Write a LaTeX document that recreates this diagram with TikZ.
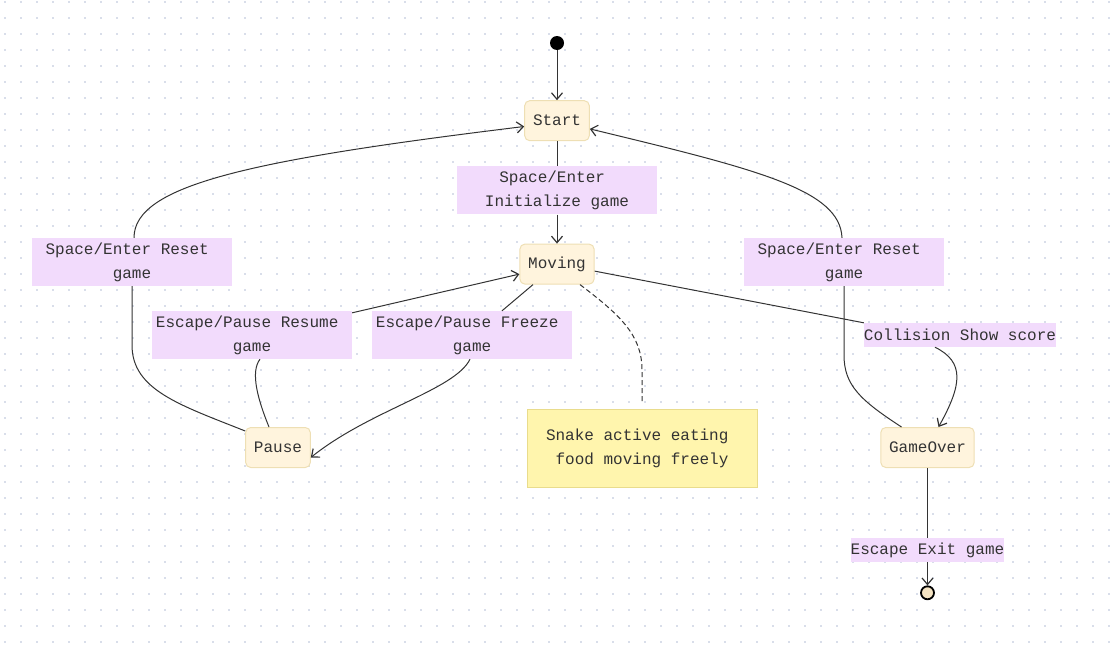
\documentclass[tikz,border=0pt]{standalone}
\usepackage{fontspec}
\newfontfamily\statefont[WordSpace={1,0,0}]{Liberation Mono}
\usetikzlibrary{positioning}
\usetikzlibrary{arrows.meta}
\definecolor{ink}{HTML}{333333}
\definecolor{gridc}{HTML}{D9DEEA}
\definecolor{statefill}{HTML}{FFF4DD}
\definecolor{stateline}{HTML}{EEDFB4}
\definecolor{lblfill}{HTML}{F2DBFC}
\definecolor{notefill}{HTML}{FFF5AD}
\definecolor{noteline}{HTML}{E9DC8C}
\definecolor{endfill}{HTML}{F5E4C3}
\tikzset{
    txt/.style={font=\statefont\fontsize{16}{24}\selectfont, text=ink},
    statebox/.style={txt, draw=stateline, fill=statefill, line width=1pt, rounded corners=5pt, minimum height=40pt, inner xsep=8.3pt, inner ysep=0pt},
    trans/.style={txt, fill=lblfill, inner sep=0pt, minimum height=24pt},
    wide/.style={trans, text width=200pt, align=flush center, minimum height=48pt},
    notebox/.style={txt, draw=noteline, fill=notefill, line width=1pt, text width=192pt, inner xsep=19pt, inner ysep=0pt, minimum height=78pt, align=flush left},
    flow/.style={draw=ink, line width=1pt},
    flowarr/.style={flow, -{Straight Barb[length=6.5pt,width=11pt,line width=1.2pt]}},
}

\begin{document}
\begin{tikzpicture}[x=1pt, y=-1pt]
    \useasboundingbox (0,0) rectangle (1116,654);
    \foreach \i in {0,...,69}
        \foreach \j in {0,...,40}
            \fill[gridc] (3.7+16*\i,0.7+16*\j) rectangle +(2,2);

    \node [circle, fill=black, minimum size=14pt, inner sep=0pt] (init) at (557,43) {};
    \node [statebox, below=50pt of init] (start) {Start};
    \node [wide, below=25pt of start] (lblinit) {Space/Enter\hphantom{x}\\Initialize game};
    \node [statebox, below=29pt of lblinit] (moving) {Moving};

    \node [statebox] (pause) at (278,447.5) {Pause};
    \node [statebox] (gameover) at (927.5,447.5) {GameOver};
    \node [notebox] (note) at (642,448) {Snake active eating\\\hphantom{x}food moving freely};

    \node [wide] (lblresetl) at (132,262) {Space/Enter Reset\hphantom{x}\\game};
    \node [wide] (lblresume) at (252,335) {Escape/Pause Resume\hphantom{x}\\game};
    \node [wide] (lblfreeze) at (472,335) {Escape/Pause Freeze\hphantom{x}\\game};
    \node [wide] (lblresetr) at (844,262) {Space/Enter Reset\hphantom{x}\\game};
    \node [trans] (lblcoll) at (960,335) {Collision Show score};
    \node [trans, below=70pt of gameover] (lblexit) {Escape Exit game};
    \node [circle, draw=black, fill=endfill, line width=1.8pt, minimum size=13pt, inner sep=0pt, below=23pt of lblexit] (final) {};

    \draw[flowarr] (init) -- (start);
    \draw[flow] (start) -- (lblinit);
    \draw[flowarr] (lblinit) -- (moving);

    \draw[flow] ([xshift=-24pt]moving.south) -- ([xshift=30pt]lblfreeze.north);
    \draw[flowarr] ([xshift=-2pt]lblfreeze.south) .. controls (455,390) and (370,410) .. ([yshift=-10pt]pause.east);

    \draw[flow] ([xshift=-9pt]pause.north) .. controls (258,400) and (250,372) .. ([xshift=8pt]lblresume.south);
    \draw[flowarr] ([yshift=-2pt]lblresume.north east) -- ([yshift=-10pt]moving.west);

    \draw[flow] ([yshift=-4pt]pause.north west) .. controls (180,405) and (132,390) .. (132,345) -- (lblresetl.south);
    \draw[flowarr] ([xshift=2pt]lblresetl.north) .. controls (134,185) and (250,160) .. (start.190);

    \draw[flow] ([yshift=-7pt]moving.east) -- (lblcoll.north west);
    \draw[flowarr] ([xshift=-25pt]lblcoll.south) .. controls (965,362) and (962,385) .. ([xshift=11pt]gameover.north);

    \draw[flow] ([xshift=-26pt]gameover.north) .. controls (860,400) and (844,385) .. (844,355) -- (lblresetr.south);
    \draw[flowarr] ([xshift=-2pt]lblresetr.north) .. controls (840,190) and (760,170) .. (start.-14);

    \draw[flow] (gameover) -- (lblexit);
    \draw[flowarr] (lblexit) -- (final);

    \draw[flow, dash pattern=on 5pt off 3pt] ([xshift=23pt]moving.south) .. controls (620,315) and (642,335) .. (642,370) -- ([yshift=5pt]note.north);
\end{tikzpicture}
\end{document}
